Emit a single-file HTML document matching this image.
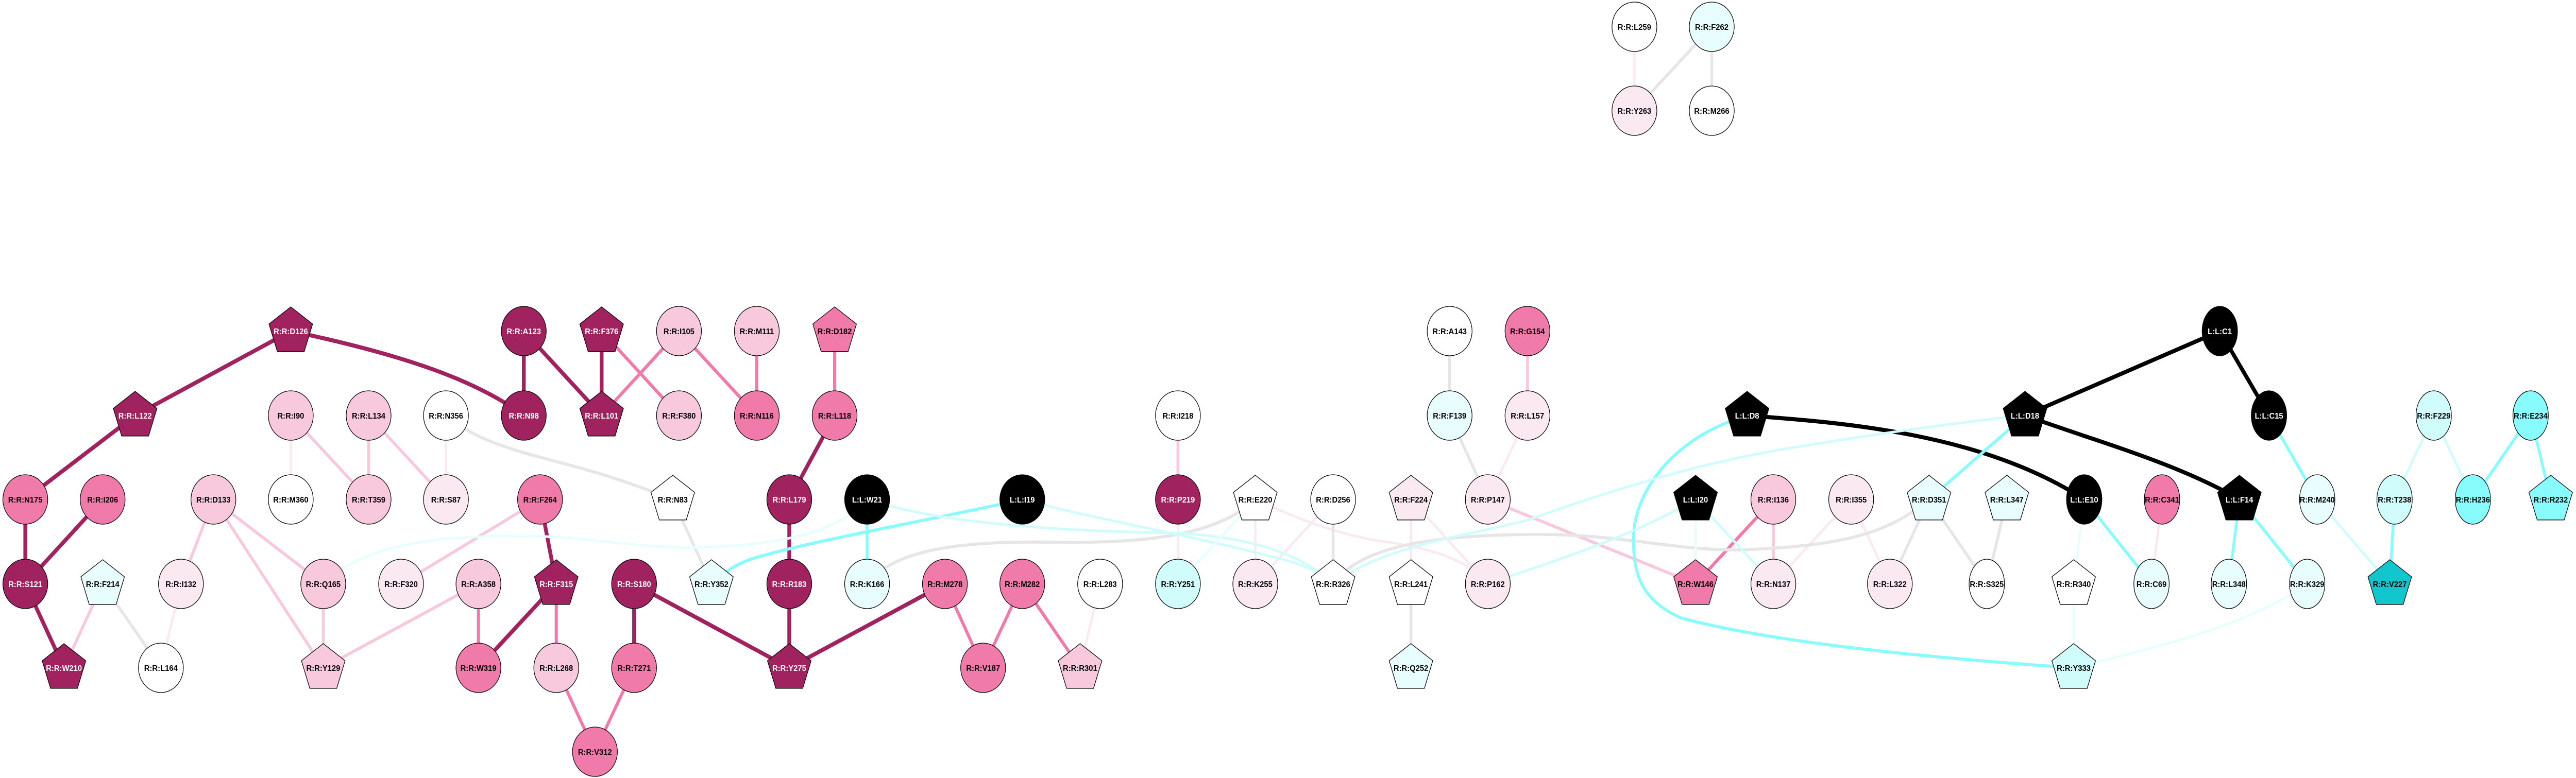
<!DOCTYPE html>
<html><head><meta charset="utf-8"><style>
html,body{margin:0;padding:0;background:#fff;width:100%;height:100%;overflow:hidden;}
svg{position:fixed;left:0;top:0;width:100vw;height:100vh;display:block}
text{font-family:"Liberation Sans",Arial,sans-serif;font-size:16px;font-weight:bold;text-anchor:middle;fill:#000}
.w{fill:#fff}
.n{stroke:#000;stroke-width:1.3}
path,line{fill:none;stroke-linecap:butt}
</style></head><body>
<svg viewBox="0 0 5395 1511" preserveAspectRatio="none" xmlns="http://www.w3.org/2000/svg">
<defs>
<polygon id="p" points="0,-47 45.7,-13.8 28.2,39.8 -28.2,39.8 -45.7,-13.8"/>
</defs>
<g stroke-width="8">
<g stroke="#A0235F">
<line x1="609" y1="643" x2="283" y2="807"/>
<path d="M609,643 C850,690 1000,740 1097,807"/>
<line x1="283" y1="807" x2="53" y2="970"/>
<line x1="53" y1="970" x2="53" y2="1134"/>
<line x1="215" y1="970" x2="53" y2="1134"/>
<line x1="53" y1="1134" x2="134" y2="1297"/>
<line x1="1131" y1="970" x2="1165" y2="1134"/>
<line x1="1165" y1="1134" x2="1002" y2="1297"/>
<line x1="1328" y1="1134" x2="1328" y2="1297"/>
<line x1="1328" y1="1134" x2="1653" y2="1297"/>
<line x1="1653" y1="1134" x2="1653" y2="1297"/>
<line x1="1979" y1="1134" x2="1653" y2="1297"/>
<line x1="1653" y1="970" x2="1653" y2="1134"/>
<line x1="1748" y1="807" x2="1653" y2="970"/>
<line x1="1097" y1="643" x2="1097" y2="807"/>
<line x1="1097" y1="643" x2="1260" y2="807"/>
<line x1="1260" y1="643" x2="1260" y2="807"/>
</g>
<g stroke="#000">
<line x1="4649" y1="643" x2="4241" y2="807"/>
<line x1="4649" y1="643" x2="4752" y2="807"/>
<path d="M4241,807 C4400,860 4560,900 4690,970"/>
<path d="M3659,807 C3850,820 4150,840 4365,970"/>
</g>
</g>
<g stroke-width="6.5" stroke="#F07BAA">
<line x1="1002" y1="1134" x2="1002" y2="1297"/>
<line x1="1165" y1="1134" x2="1165" y2="1297"/>
<line x1="1165" y1="1297" x2="1246" y2="1460"/>
<line x1="1328" y1="1297" x2="1246" y2="1460"/>
<line x1="1260" y1="643" x2="1422" y2="807"/>
<line x1="1422" y1="643" x2="1260" y2="807"/>
<line x1="1422" y1="643" x2="1585" y2="807"/>
<line x1="1585" y1="643" x2="1585" y2="807"/>
<line x1="1748" y1="643" x2="1748" y2="807"/>
<line x1="1979" y1="1134" x2="2059" y2="1297"/>
<line x1="2141" y1="1134" x2="2059" y2="1297"/>
<line x1="2141" y1="1134" x2="2262" y2="1297"/>
<line x1="3714" y1="970" x2="3551" y2="1134"/>
</g>
<g stroke-width="6" stroke="#F8C8DC">
<line x1="215" y1="1134" x2="134" y2="1297"/>
<line x1="447" y1="970" x2="379" y2="1134"/>
<line x1="447" y1="970" x2="677" y2="1134"/>
<line x1="447" y1="970" x2="677" y2="1297"/>
<line x1="677" y1="1134" x2="677" y2="1297"/>
<line x1="609" y1="807" x2="772" y2="970"/>
<line x1="772" y1="807" x2="772" y2="970"/>
<line x1="772" y1="807" x2="934" y2="970"/>
<line x1="1131" y1="970" x2="840" y2="1134"/>
<line x1="1002" y1="1134" x2="677" y2="1297"/>
<line x1="2467" y1="807" x2="2467" y2="970"/>
<line x1="3199" y1="643" x2="3199" y2="807"/>
<line x1="3116" y1="970" x2="3551" y2="1134"/>
<line x1="3714" y1="970" x2="3714" y2="1134"/>
</g>
<g stroke-width="5" stroke="#FBE9F2">
<line x1="379" y1="1134" x2="337" y2="1297"/>
<line x1="609" y1="807" x2="609" y2="970"/>
<line x1="934" y1="807" x2="934" y2="970"/>
<line x1="2467" y1="970" x2="2467" y2="1134"/>
<line x1="2629" y1="970" x2="2629" y2="1134"/>
<line x1="2792" y1="970" x2="2629" y2="1134"/>
<path d="M2629,970 C2700,1000 2800,1040 2900,1052 C3000,1065 3080,1090 3116,1134"/>
<line x1="2955" y1="970" x2="2955" y2="1134"/>
<line x1="2955" y1="970" x2="3116" y2="1134"/>
<line x1="3199" y1="807" x2="3116" y2="970"/>
<line x1="3877" y1="970" x2="3714" y2="1134"/>
<line x1="3877" y1="970" x2="3958" y2="1134"/>
<line x1="4528" y1="970" x2="4506" y2="1134"/>
<line x1="2304" y1="1134" x2="2262" y2="1297"/>
<line x1="3423" y1="52" x2="3423" y2="215"/>
</g>
<g stroke-width="6" stroke="#E6E6E6">
<line x1="215" y1="1134" x2="337" y2="1297"/>
<path d="M934,807 C1000,860 1100,880 1200,905 C1280,925 1340,945 1409,970"/>
<line x1="1409" y1="970" x2="1490" y2="1134"/>
<path d="M1816,1134 C1870,1070 2000,1050 2200,1053 C2400,1056 2550,1040 2629,970"/>
<line x1="2792" y1="970" x2="2792" y2="1134"/>
<path d="M2792,1134 C2850,1060 3000,1040 3200,1038 C3400,1036 3500,1070 3650,1068 C3850,1060 3950,1040 4040,970"/>
<line x1="2955" y1="1134" x2="2955" y2="1297"/>
<line x1="3036" y1="643" x2="3036" y2="807"/>
<line x1="3036" y1="807" x2="3116" y2="970"/>
<line x1="4040" y1="970" x2="3958" y2="1134"/>
<line x1="4040" y1="970" x2="4161" y2="1134"/>
<line x1="4203" y1="970" x2="4161" y2="1134"/>
<line x1="3585" y1="52" x2="3423" y2="215"/>
<line x1="3585" y1="52" x2="3585" y2="215"/>
</g>
<g stroke-width="6" stroke="#88FCFC">
<line x1="1816" y1="970" x2="1816" y2="1134"/>
<path d="M2141,970 C1950,1010 1700,1050 1580,1084 C1540,1095 1520,1110 1490,1134"/>
<path d="M3659,807 C3500,850 3420,960 3421,1047 C3420,1130 3450,1170 3520,1200 C3700,1245 4000,1275 4343,1297"/>
<line x1="4241" y1="807" x2="4040" y2="970"/>
<line x1="4365" y1="970" x2="4506" y2="1134"/>
<line x1="4690" y1="970" x2="4668" y2="1134"/>
<line x1="4690" y1="970" x2="4832" y2="1134"/>
<line x1="4752" y1="807" x2="4853" y2="970"/>
<line x1="5015" y1="970" x2="5005" y2="1134"/>
<line x1="5300" y1="807" x2="5179" y2="970"/>
<line x1="5300" y1="807" x2="5342" y2="970"/>
</g>
<g stroke-width="5" stroke="#D0FCFC">
<path d="M1816,970 C1950,1010 2150,1030 2450,1035 C2600,1040 2720,1070 2792,1134"/>
<path d="M2141,970 C2300,1010 2500,1040 2701,1090 C2750,1105 2770,1115 2792,1134"/>
<path d="M2792,1134 C2900,1060 3050,1045 3200,1010 C3350,960 3550,900 3750,870 C3950,840 4100,820 4241,807"/>
<path d="M3116,1134 C3250,1090 3400,1050 3551,970"/>
<line x1="3551" y1="970" x2="3714" y2="1134"/>
<line x1="4853" y1="970" x2="5005" y2="1134"/>
<line x1="5097" y1="807" x2="5015" y2="970"/>
<line x1="5097" y1="807" x2="5179" y2="970"/>
</g>
<g stroke-width="5" stroke="#E8FEFE">
<path d="M677,1134 C760,1060 900,1040 1100,1041 C1250,1042 1350,1070 1500,1062 C1650,1055 1760,1030 1816,970"/>
<line x1="2629" y1="970" x2="2467" y2="1134"/>
<line x1="3551" y1="970" x2="3551" y2="1134"/>
<line x1="4365" y1="970" x2="4343" y2="1134"/>
<line x1="4343" y1="1134" x2="4343" y2="1297"/>
<path d="M4832,1134 C4700,1220 4500,1260 4343,1297"/>
</g>
<g class="n">
<ellipse cx="3423" cy="52" rx="47" ry="48" fill="#fff"/>
<ellipse cx="3585" cy="52" rx="47" ry="48" fill="#E8FEFE"/>
<ellipse cx="3423" cy="215" rx="47" ry="48" fill="#FBE9F2"/>
<ellipse cx="3585" cy="215" rx="47" ry="48" fill="#fff"/>
<use href="#p" x="609" y="643" fill="#A0235F"/>
<ellipse cx="1097" cy="643" rx="47" ry="48" fill="#A0235F"/>
<use href="#p" x="1260" y="643" fill="#A0235F"/>
<ellipse cx="1422" cy="643" rx="47" ry="48" fill="#F8C8DC"/>
<ellipse cx="1585" cy="643" rx="47" ry="48" fill="#F8C8DC"/>
<use href="#p" x="1748" y="643" fill="#F07BAA"/>
<ellipse cx="3036" cy="643" rx="47" ry="48" fill="#fff"/>
<ellipse cx="3199" cy="643" rx="47" ry="48" fill="#F07BAA"/>
<ellipse cx="4649" cy="643" rx="37" ry="48" fill="#000"/>
<use href="#p" x="283" y="807" fill="#A0235F"/>
<ellipse cx="609" cy="807" rx="47" ry="48" fill="#F8C8DC"/>
<ellipse cx="772" cy="807" rx="47" ry="48" fill="#F8C8DC"/>
<ellipse cx="934" cy="807" rx="47" ry="48" fill="#fff"/>
<ellipse cx="1097" cy="807" rx="47" ry="48" fill="#A0235F"/>
<use href="#p" x="1260" y="807" fill="#A0235F"/>
<ellipse cx="1422" cy="807" rx="47" ry="48" fill="#F8C8DC"/>
<ellipse cx="1585" cy="807" rx="47" ry="48" fill="#F07BAA"/>
<ellipse cx="1748" cy="807" rx="47" ry="48" fill="#F07BAA"/>
<ellipse cx="2467" cy="807" rx="47" ry="48" fill="#fff"/>
<ellipse cx="3036" cy="807" rx="47" ry="48" fill="#E8FEFE"/>
<ellipse cx="3199" cy="807" rx="47" ry="48" fill="#FBE9F2"/>
<use href="#p" x="3659" y="807" fill="#000"/>
<use href="#p" x="4241" y="807" fill="#000"/>
<ellipse cx="4752" cy="807" rx="37" ry="48" fill="#000"/>
<ellipse cx="5097" cy="807" rx="37" ry="48" fill="#D0FCFC"/>
<ellipse cx="5300" cy="807" rx="37" ry="48" fill="#88FCFC"/>
<ellipse cx="53" cy="970" rx="47" ry="48" fill="#F07BAA"/>
<ellipse cx="215" cy="970" rx="47" ry="48" fill="#F07BAA"/>
<ellipse cx="447" cy="970" rx="47" ry="48" fill="#F8C8DC"/>
<ellipse cx="609" cy="970" rx="47" ry="48" fill="#fff"/>
<ellipse cx="772" cy="970" rx="47" ry="48" fill="#F8C8DC"/>
<ellipse cx="934" cy="970" rx="47" ry="48" fill="#FBE9F2"/>
<ellipse cx="1131" cy="970" rx="47" ry="48" fill="#F07BAA"/>
<use href="#p" x="1409" y="970" fill="#fff"/>
<ellipse cx="1653" cy="970" rx="47" ry="48" fill="#A0235F"/>
<ellipse cx="1816" cy="970" rx="47" ry="48" fill="#000"/>
<ellipse cx="2141" cy="970" rx="47" ry="48" fill="#000"/>
<ellipse cx="2467" cy="970" rx="47" ry="48" fill="#A0235F"/>
<use href="#p" x="2629" y="970" fill="#fff"/>
<ellipse cx="2792" cy="970" rx="47" ry="48" fill="#fff"/>
<use href="#p" x="2955" y="970" fill="#FBE9F2"/>
<ellipse cx="3116" cy="970" rx="47" ry="48" fill="#FBE9F2"/>
<use href="#p" x="3551" y="970" fill="#000"/>
<ellipse cx="3714" cy="970" rx="47" ry="48" fill="#F8C8DC"/>
<ellipse cx="3877" cy="970" rx="47" ry="48" fill="#FBE9F2"/>
<use href="#p" x="4040" y="970" fill="#E8FEFE"/>
<use href="#p" x="4203" y="970" fill="#E8FEFE"/>
<ellipse cx="4365" cy="970" rx="37" ry="48" fill="#000"/>
<ellipse cx="4528" cy="970" rx="37" ry="48" fill="#F07BAA"/>
<use href="#p" x="4690" y="970" fill="#000"/>
<ellipse cx="4853" cy="970" rx="37" ry="48" fill="#E8FEFE"/>
<ellipse cx="5015" cy="970" rx="37" ry="48" fill="#D0FCFC"/>
<ellipse cx="5179" cy="970" rx="37" ry="48" fill="#88FCFC"/>
<use href="#p" x="5342" y="970" fill="#88FCFC"/>
<ellipse cx="53" cy="1134" rx="47" ry="48" fill="#A0235F"/>
<use href="#p" x="215" y="1134" fill="#E8FEFE"/>
<ellipse cx="379" cy="1134" rx="47" ry="48" fill="#FBE9F2"/>
<ellipse cx="677" cy="1134" rx="47" ry="48" fill="#F8C8DC"/>
<ellipse cx="840" cy="1134" rx="47" ry="48" fill="#FBE9F2"/>
<ellipse cx="1002" cy="1134" rx="47" ry="48" fill="#F8C8DC"/>
<use href="#p" x="1165" y="1134" fill="#A0235F"/>
<ellipse cx="1328" cy="1134" rx="47" ry="48" fill="#A0235F"/>
<use href="#p" x="1490" y="1134" fill="#E8FEFE"/>
<ellipse cx="1653" cy="1134" rx="47" ry="48" fill="#A0235F"/>
<ellipse cx="1816" cy="1134" rx="47" ry="48" fill="#E8FEFE"/>
<ellipse cx="1979" cy="1134" rx="47" ry="48" fill="#F07BAA"/>
<ellipse cx="2141" cy="1134" rx="47" ry="48" fill="#F07BAA"/>
<ellipse cx="2304" cy="1134" rx="47" ry="48" fill="#fff"/>
<ellipse cx="2467" cy="1134" rx="47" ry="48" fill="#D0FCFC"/>
<ellipse cx="2629" cy="1134" rx="47" ry="48" fill="#FBE9F2"/>
<use href="#p" x="2792" y="1134" fill="#fff"/>
<use href="#p" x="2955" y="1134" fill="#fff"/>
<ellipse cx="3116" cy="1134" rx="47" ry="48" fill="#FBE9F2"/>
<use href="#p" x="3551" y="1134" fill="#F07BAA"/>
<ellipse cx="3714" cy="1134" rx="47" ry="48" fill="#FBE9F2"/>
<ellipse cx="3958" cy="1134" rx="47" ry="48" fill="#FBE9F2"/>
<ellipse cx="4161" cy="1134" rx="37" ry="48" fill="#fff"/>
<use href="#p" x="4343" y="1134" fill="#fff"/>
<ellipse cx="4506" cy="1134" rx="37" ry="48" fill="#E8FEFE"/>
<ellipse cx="4668" cy="1134" rx="37" ry="48" fill="#E8FEFE"/>
<ellipse cx="4832" cy="1134" rx="37" ry="48" fill="#E8FEFE"/>
<use href="#p" x="5005" y="1134" fill="#12C6CE"/>
<use href="#p" x="134" y="1297" fill="#A0235F"/>
<ellipse cx="337" cy="1297" rx="47" ry="48" fill="#fff"/>
<use href="#p" x="677" y="1297" fill="#F8C8DC"/>
<ellipse cx="1002" cy="1297" rx="47" ry="48" fill="#F07BAA"/>
<ellipse cx="1165" cy="1297" rx="47" ry="48" fill="#F8C8DC"/>
<ellipse cx="1328" cy="1297" rx="47" ry="48" fill="#F07BAA"/>
<use href="#p" x="1653" y="1297" fill="#A0235F"/>
<ellipse cx="2059" cy="1297" rx="47" ry="48" fill="#F07BAA"/>
<use href="#p" x="2262" y="1297" fill="#F8C8DC"/>
<use href="#p" x="2955" y="1297" fill="#E8FEFE"/>
<use href="#p" x="4343" y="1297" fill="#D0FCFC"/>
<ellipse cx="1246" cy="1460" rx="47" ry="48" fill="#F07BAA"/>
</g>
<g>
<text x="3423" y="58">R:R:L259</text>
<text x="3585" y="58">R:R:F262</text>
<text x="3423" y="221">R:R:Y263</text>
<text x="3585" y="221">R:R:M266</text>
<text class="w" x="609" y="649">R:R:D126</text>
<text class="w" x="1097" y="649">R:R:A123</text>
<text class="w" x="1260" y="649">R:R:F376</text>
<text x="1422" y="649">R:R:I105</text>
<text x="1585" y="649">R:R:M111</text>
<text x="1748" y="649">R:R:D182</text>
<text x="3036" y="649">R:R:A143</text>
<text x="3199" y="649">R:R:G154</text>
<text class="w" x="4649" y="649">L:L:C1</text>
<text class="w" x="283" y="813">R:R:L122</text>
<text x="609" y="813">R:R:I90</text>
<text x="772" y="813">R:R:L134</text>
<text x="934" y="813">R:R:N356</text>
<text class="w" x="1097" y="813">R:R:N98</text>
<text class="w" x="1260" y="813">R:R:L101</text>
<text x="1422" y="813">R:R:F380</text>
<text x="1585" y="813">R:R:N116</text>
<text x="1748" y="813">R:R:L118</text>
<text x="2467" y="813">R:R:I218</text>
<text x="3036" y="813">R:R:F139</text>
<text x="3199" y="813">R:R:L157</text>
<text class="w" x="3659" y="813">L:L:D8</text>
<text class="w" x="4241" y="813">L:L:D18</text>
<text class="w" x="4752" y="813">L:L:C15</text>
<text x="5097" y="813">R:R:F229</text>
<text x="5300" y="813">R:R:E234</text>
<text x="53" y="976">R:R:N175</text>
<text x="215" y="976">R:R:I206</text>
<text x="447" y="976">R:R:D133</text>
<text x="609" y="976">R:R:M360</text>
<text x="772" y="976">R:R:T359</text>
<text x="934" y="976">R:R:S87</text>
<text x="1131" y="976">R:R:F264</text>
<text x="1409" y="976">R:R:N83</text>
<text class="w" x="1653" y="976">R:R:L179</text>
<text class="w" x="1816" y="976">L:L:W21</text>
<text class="w" x="2141" y="976">L:L:I19</text>
<text class="w" x="2467" y="976">R:R:P219</text>
<text x="2629" y="976">R:R:E220</text>
<text x="2792" y="976">R:R:D256</text>
<text x="2955" y="976">R:R:F224</text>
<text x="3116" y="976">R:R:P147</text>
<text class="w" x="3551" y="976">L:L:I20</text>
<text x="3714" y="976">R:R:I136</text>
<text x="3877" y="976">R:R:I355</text>
<text x="4040" y="976">R:R:D351</text>
<text x="4203" y="976">R:R:L347</text>
<text class="w" x="4365" y="976">L:L:E10</text>
<text x="4528" y="976">R:R:C341</text>
<text class="w" x="4690" y="976">L:L:F14</text>
<text x="4853" y="976">R:R:M240</text>
<text x="5015" y="976">R:R:T238</text>
<text x="5179" y="976">R:R:H236</text>
<text x="5342" y="976">R:R:R232</text>
<text class="w" x="53" y="1140">R:R:S121</text>
<text x="215" y="1140">R:R:F214</text>
<text x="379" y="1140">R:R:I132</text>
<text x="677" y="1140">R:R:Q165</text>
<text x="840" y="1140">R:R:F320</text>
<text x="1002" y="1140">R:R:A358</text>
<text class="w" x="1165" y="1140">R:R:F315</text>
<text class="w" x="1328" y="1140">R:R:S180</text>
<text x="1490" y="1140">R:R:Y352</text>
<text class="w" x="1653" y="1140">R:R:R183</text>
<text x="1816" y="1140">R:R:K166</text>
<text x="1979" y="1140">R:R:M278</text>
<text x="2141" y="1140">R:R:M282</text>
<text x="2304" y="1140">R:R:L283</text>
<text x="2467" y="1140">R:R:Y251</text>
<text x="2629" y="1140">R:R:K255</text>
<text x="2792" y="1140">R:R:R326</text>
<text x="2955" y="1140">R:R:L241</text>
<text x="3116" y="1140">R:R:P162</text>
<text x="3551" y="1140">R:R:W146</text>
<text x="3714" y="1140">R:R:N137</text>
<text x="3958" y="1140">R:R:L322</text>
<text x="4161" y="1140">R:R:S325</text>
<text x="4343" y="1140">R:R:R340</text>
<text x="4506" y="1140">R:R:C69</text>
<text x="4668" y="1140">R:R:L348</text>
<text x="4832" y="1140">R:R:K329</text>
<text x="5005" y="1140">R:R:V227</text>
<text class="w" x="134" y="1303">R:R:W210</text>
<text x="337" y="1303">R:R:L164</text>
<text x="677" y="1303">R:R:Y129</text>
<text x="1002" y="1303">R:R:W319</text>
<text x="1165" y="1303">R:R:L268</text>
<text x="1328" y="1303">R:R:T271</text>
<text class="w" x="1653" y="1303">R:R:Y275</text>
<text x="2059" y="1303">R:R:V187</text>
<text x="2262" y="1303">R:R:R301</text>
<text x="2955" y="1303">R:R:Q252</text>
<text x="4343" y="1303">R:R:Y333</text>
<text x="1246" y="1466">R:R:V312</text>
</g>
</svg>
</body></html>
